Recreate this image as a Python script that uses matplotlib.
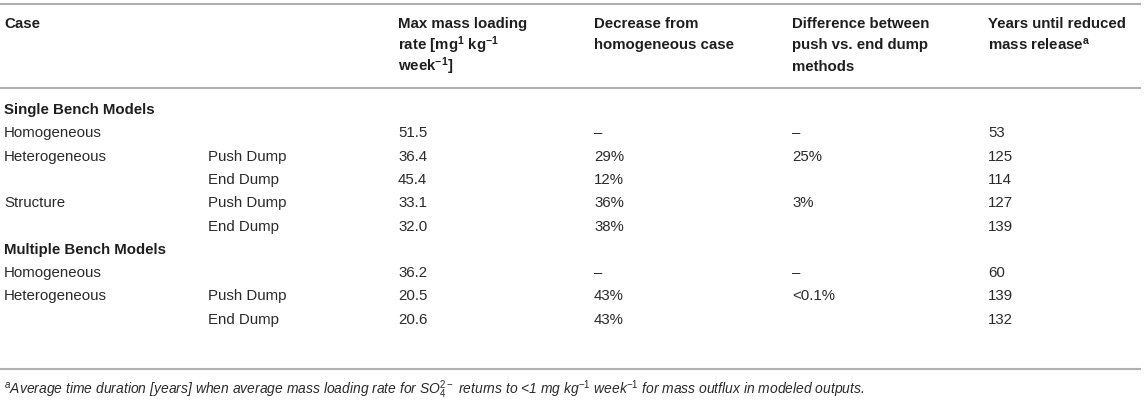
"""Table: mass loading rates for bench models."""

import matplotlib

matplotlib.use("Agg")
import matplotlib.pyplot as plt

plt.rcParams["font.family"] = ["Liberation Sans", "DejaVu Sans"]
plt.rcParams["mathtext.fontset"] = "custom"
plt.rcParams["mathtext.rm"] = "Liberation Sans"
plt.rcParams["mathtext.it"] = "Liberation Sans:italic"
plt.rcParams["mathtext.bf"] = "Liberation Sans:bold"

headers = [
    ["Case"],
    [],
    ["Max mass loading", "rate [mg$\\mathbf{^1}$ kg$\\mathbf{^{-1}}$", "week$\\mathbf{^{-1}}$]"],
    ["Decrease from", "homogeneous case"],
    ["Difference between", "push vs. end dump", "methods"],
    ["Years until reduced", "mass release$\\mathbf{^a}$"],
]

sections = ["Single Bench Models", "Multiple Bench Models"]
cases = [
    ["Homogeneous", "Heterogeneous", "", "Structure", ""],
    ["Homogeneous", "Heterogeneous", ""],
]
methods = [
    ["", "Push Dump", "End Dump", "Push Dump", "End Dump"],
    ["", "Push Dump", "End Dump"],
]
max_rate = [
    ["51.5", "36.4", "45.4", "33.1", "32.0"],
    ["36.2", "20.5", "20.6"],
]
decrease = [
    ["–", "29%", "12%", "36%", "38%"],
    ["–", "43%", "43%"],
]
difference = [
    ["–", "25%", "", "3%", ""],
    ["–", "<0.1%", ""],
]
years = [
    ["53", "125", "114", "127", "139"],
    ["60", "139", "132"],
]

footnote = (
    "$^a$Average time duration [years] when average mass loading rate for "
    "SO$_4^{2-}$ returns to <1 mg kg$^{-1}$ week$^{-1}$ for mass outflux in "
    "modeled outputs."
)

W, H = 1145, 403
col_x = [4, 208, 398, 594, 792, 988]
line_color = "#b0b0b0"
text_color = "#2a2a2a"
fs = 10.8

fig = plt.figure(figsize=(W / 100, H / 100), dpi=100)
ax = fig.add_axes([0, 0, 1, 1])
ax.set_xlim(0, W)
ax.set_ylim(H, 0)
ax.axis("off")

for y in (4, 88, 369):
    ax.plot([0, 1141], [y, y], color=line_color, lw=1.5, solid_capstyle="butt")

for x, lines in zip(col_x, headers):
    for k, line in enumerate(lines):
        ax.text(x, 28 + k * 21.5, line, fontsize=fs, fontweight="bold",
                color="#1e1e1e", va="baseline", ha="left")

y = 110
row_h = 23.3
for s, title in enumerate(sections):
    ax.text(col_x[0], y, title, fontsize=fs, fontweight="bold",
            color="#1e1e1e", va="center", ha="left")
    y += row_h
    for i in range(len(cases[s])):
        vals = [cases[s][i], methods[s][i], max_rate[s][i],
                decrease[s][i], difference[s][i], years[s][i]]
        for x, v in zip(col_x, vals):
            if v:
                ax.text(x, y, v, fontsize=fs, color=text_color,
                        va="center", ha="left")
        y += row_h

ax.text(col_x[0], 390, footnote, fontsize=10.0, style="italic",
        color=text_color, va="center", ha="left")

fig.savefig("out.png", dpi=100)
